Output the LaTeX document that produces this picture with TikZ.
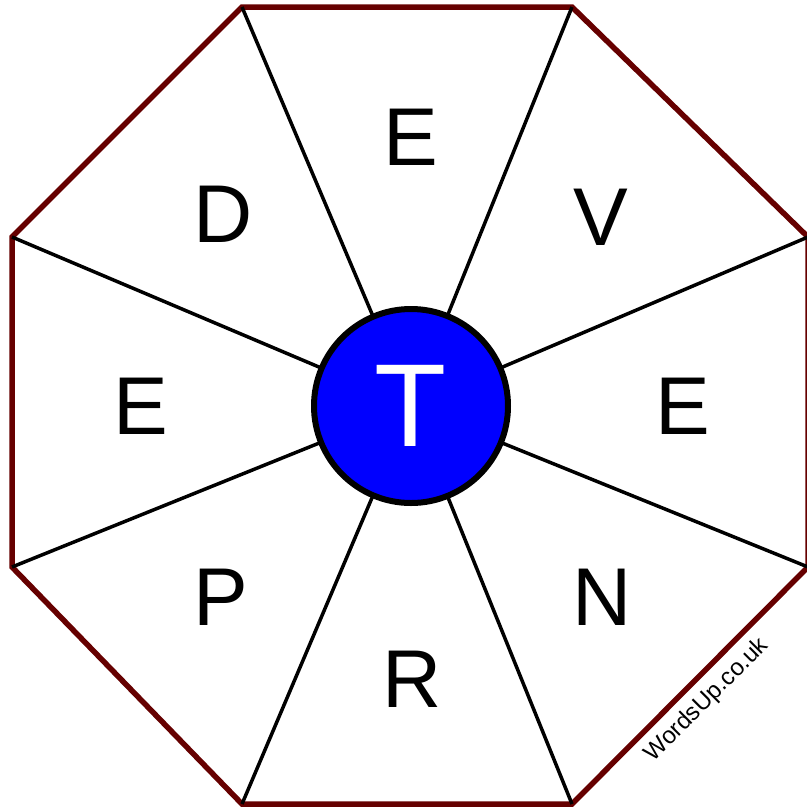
\documentclass[tikz,border=0pt]{standalone}
\usepackage{fontspec}
\setmainfont{Liberation Sans}
\usetikzlibrary{positioning}
\definecolor{rimred}{RGB}{102,0,0}
\tikzset{
  rim/.style = {draw=rimred, line width=5.5pt, line join=miter},
  spoke/.style = {draw=black, line width=3.5pt},
  letter/.style = {inner sep=0pt, font=\fontsize{82}{82}\selectfont},
  hub/.style = {circle, draw=black, fill=blue, line width=6pt,
   minimum size=194pt, inner sep=0pt, text=white,
   font=\fontsize{118}{118}\selectfont},
  mark text/.style = {inner sep=0pt, rotate=45, font=\fontsize{24}{24}\selectfont},
}
\begin{document}
\begin{tikzpicture}[x=1pt, y=-1pt]
  \useasboundingbox (0,0) rectangle (807,807);
  % octagon corners
  \coordinate (v1) at (242,7);
  \coordinate (v2) at (572,7);
  \coordinate (v3) at (808,237);
  \coordinate (v4) at (808,567);
  \coordinate (v5) at (572,804);
  \coordinate (v6) at (242,804);
  \coordinate (v7) at (12,567);
  \coordinate (v8) at (12,237);
  \coordinate (c) at (411,406);
  \draw[rim] (v1) -- (v2) -- (v3) -- (v4) -- (v5) -- (v6) -- (v7) -- (v8) -- cycle;
  \foreach \v in {v1,v2,v3,v4,v5,v6,v7,v8}
    \draw[spoke] (c) -- (\v);
  \node (T) [hub] at (c) {T};
  % outer letters
  \node (Etop) [letter] at (411,137) {E};
  \node (V) [letter] at (601,217) {V};
  \node (Eright) [letter] at (683,406) {E};
  \node (N) [letter] at (602,597) {N};
  \node (R) [letter] at (412,679) {R};
  \node (P) [letter] at (221,597) {P};
  \node (Eleft) [letter] at (141,406) {E};
  \node (D) [letter] at (223,214) {D};
  \node (site) [mark text] at (707,700) {WordsUp.co.uk};
\end{tikzpicture}
\end{document}
